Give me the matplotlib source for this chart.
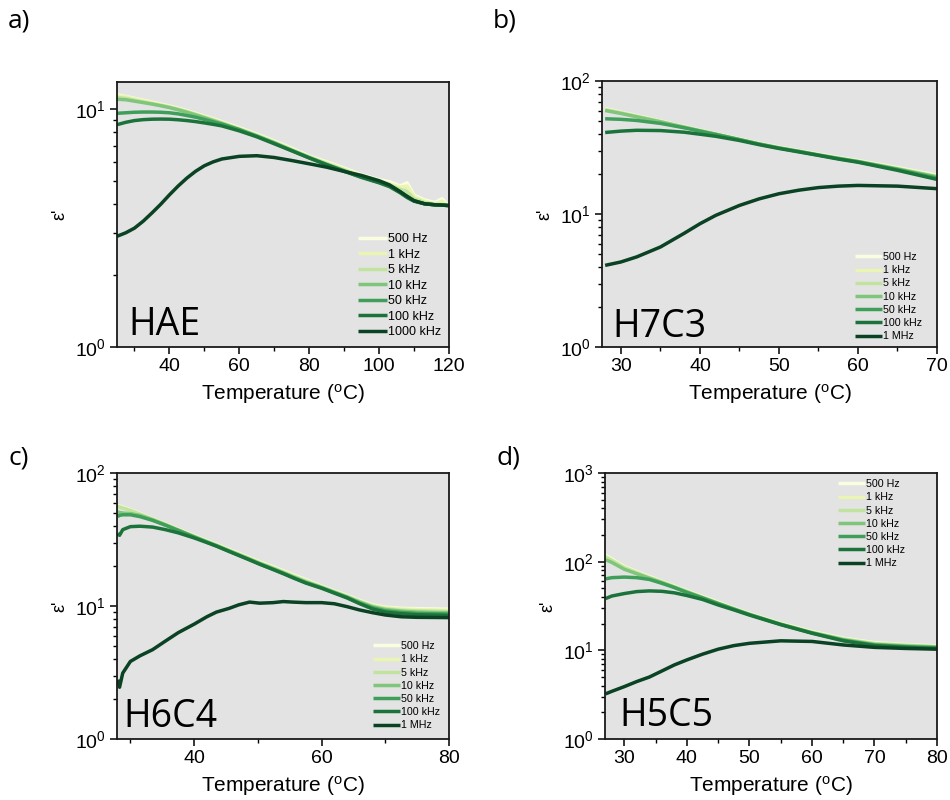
import matplotlib
matplotlib.use("Agg")
import matplotlib.pyplot as plt
from matplotlib.ticker import LogLocator, NullFormatter, MultipleLocator

plt.rcParams["font.family"] = ["Liberation Sans", "DejaVu Sans"]
plt.rcParams["mathtext.fontset"] = "custom"
plt.rcParams["mathtext.rm"] = "Liberation Sans"
plt.rcParams["mathtext.it"] = "Liberation Sans:italic"
plt.rcParams["mathtext.bf"] = "Liberation Sans:bold"

colors = ["#fafde0", "#eaf5b4", "#c2e3a0", "#80c57c", "#3f9f5a", "#1b733b", "#0a4223"]
labels_khz = ["500 Hz", "1 kHz", "5 kHz", "10 kHz", "50 kHz", "100 kHz", "1000 kHz"]
labels_mhz = ["500 Hz", "1 kHz", "5 kHz", "10 kHz", "50 kHz", "100 kHz", "1 MHz"]

# ---- a) HAE ----
temp_a = [25, 27.5, 30, 32.5, 35, 37.5, 40, 42.5, 45, 47.5, 50, 52.5, 55, 60, 65, 70, 75, 80, 85, 90, 95,
          100, 103, 106, 108, 110, 113, 116, 118, 120]
hae_500hz = [11.5, 11.3, 11.1, 10.9, 10.7, 10.5, 10.3, 10.08, 9.85, 9.6, 9.35, 9.1, 8.85, 8.35, 7.85, 7.35,
             6.85, 6.35, 6.0, 5.65, 5.3, 5.05, 4.95, 4.75, 4.9, 4.35, 4.15, 4.05, 4.2, 3.9]
hae_1khz = [11.4, 11.25, 11.05, 10.85, 10.65, 10.45, 10.25, 10.03, 9.8, 9.55, 9.3, 9.05, 8.8, 8.3, 7.8, 7.3,
            6.8, 6.3, 5.95, 5.6, 5.25, 5.0, 4.85, 4.7, 4.75, 4.3, 4.1, 4.0, 4.1, 3.9]
hae_5khz = [11.2, 11.1, 10.9, 10.72, 10.55, 10.38, 10.2, 9.98, 9.75, 9.5, 9.25, 9.0, 8.75, 8.25, 7.75, 7.25,
            6.75, 6.3, 5.9, 5.55, 5.2, 4.95, 4.8, 4.6, 4.5, 4.2, 4.05, 3.98, 3.97, 3.93]
hae_10khz = [11.0, 10.95, 10.8, 10.65, 10.5, 10.33, 10.15, 9.93, 9.7, 9.45, 9.2, 8.95, 8.7, 8.2, 7.7, 7.2,
             6.7, 6.25, 5.85, 5.5, 5.18, 4.93, 4.75, 4.5, 4.3, 4.12, 4.0, 3.96, 3.95, 3.93]
hae_50khz = [9.6, 9.65, 9.7, 9.72, 9.72, 9.7, 9.65, 9.55, 9.4, 9.25, 9.05, 8.85, 8.65, 8.2, 7.7, 7.2,
             6.7, 6.25, 5.85, 5.5, 5.18, 4.93, 4.75, 4.5, 4.28, 4.12, 4.0, 3.96, 3.95, 3.93]
hae_100khz = [8.6, 8.8, 8.95, 9.03, 9.07, 9.08, 9.07, 9.02, 8.95, 8.86, 8.75, 8.63, 8.5, 8.1, 7.65, 7.15,
              6.68, 6.23, 5.83, 5.48, 5.16, 4.9, 4.72, 4.45, 4.25, 4.1, 4.0, 3.96, 3.95, 3.93]
hae_1000khz = [2.92, 3.02, 3.16, 3.38, 3.66, 3.98, 4.36, 4.75, 5.13, 5.48, 5.78, 6.0, 6.17, 6.33, 6.37, 6.26,
               6.08, 5.89, 5.7, 5.47, 5.26, 5.0, 4.8, 4.5, 4.3, 4.12, 4.0, 3.96, 3.95, 3.93]

# ---- b) H7C3 ----
temp_b = [28, 30, 32, 35, 38, 40, 42, 45, 47.5, 50, 52.5, 55, 57.5, 60, 65, 70]
h7c3_500hz = [62, 58.3, 54.8, 50, 45.5, 42.7, 40.2, 36.7, 34.0, 31.8, 30.0, 28.2, 26.6, 25.2, 22.3, 19.6]
h7c3_1khz = [61.5, 58, 54.5, 49.8, 45.3, 42.5, 40, 36.5, 33.8, 31.6, 29.8, 28.0, 26.4, 25.0, 22.1, 19.4]
h7c3_5khz = [61, 57.6, 54.2, 49.6, 45.1, 42.4, 39.9, 36.4, 33.7, 31.5, 29.7, 27.9, 26.3, 24.9, 21.9, 19.1]
h7c3_10khz = [60, 57, 53.8, 49.3, 44.9, 42.2, 39.8, 36.3, 33.6, 31.4, 29.6, 27.8, 26.2, 24.8, 21.8, 19.0]
h7c3_50khz = [52, 51.5, 50.5, 48, 44.5, 42, 39.6, 36.2, 33.5, 31.3, 29.5, 27.7, 26.1, 24.7, 21.6, 18.6]
h7c3_100khz = [41, 42, 42.6, 42.4, 41.2, 39.8, 38.4, 35.7, 33.2, 31.1, 29.3, 27.6, 25.9, 24.5, 21.3, 18.2]
h7c3_1mhz = [4.11, 4.36, 4.76, 5.65, 7.16, 8.45, 9.77, 11.6, 13.0, 14.2, 15.1, 15.8, 16.2, 16.4, 16.2, 15.5]

# ---- c) H6C4 ----
temp_c = [28, 28.3, 28.8, 30, 31.5, 33.5, 35.5, 37.5, 40, 42, 43.5, 45.5, 47, 48.7, 50.3,
          52.4, 54, 55.5, 57.5, 60, 62, 64, 66, 68, 70, 72.5, 75, 77.5, 80]
h6c4_500hz = [57, 56.4, 55.4, 53, 49.5, 45.3, 41.4, 37.8, 33.8, 31.0, 29.1, 26.6, 24.9, 23.1, 21.5,
              19.7, 18.4, 17.2, 15.8, 14.1, 13.0, 12.0, 11.0, 10.2, 9.8, 9.6, 9.55, 9.5, 9.45]
h6c4_1khz = [56.5, 56, 55, 52.7, 49.3, 45.1, 41.2, 37.6, 33.6, 30.8, 28.9, 26.4, 24.7, 22.9, 21.3,
             19.5, 18.2, 17.0, 15.6, 14.0, 12.9, 11.9, 10.9, 10.1, 9.7, 9.5, 9.4, 9.35, 9.3]
h6c4_5khz = [56, 55.5, 54.5, 52.3, 49, 44.9, 41.0, 37.4, 33.4, 30.6, 28.7, 26.2, 24.5, 22.7, 21.1,
             19.3, 18.0, 16.8, 15.4, 13.9, 12.8, 11.8, 10.8, 10.0, 9.55, 9.3, 9.2, 9.15, 9.1]
h6c4_10khz = [51, 50.5, 50, 49.5, 48, 44.5, 40.8, 37.2, 33.2, 30.4, 28.5, 26.0, 24.3, 22.5, 20.9,
              19.1, 17.8, 16.6, 15.2, 13.8, 12.7, 11.7, 10.7, 9.85, 9.4, 9.15, 9.0, 8.95, 8.9]
h6c4_50khz = [47, 48, 48.5, 48.5, 47, 44, 40.5, 37, 33.0, 30.2, 28.3, 25.8, 24.1, 22.3, 20.7,
              18.9, 17.6, 16.4, 15.0, 13.7, 12.6, 11.6, 10.5, 9.7, 9.2, 8.95, 8.8, 8.75, 8.7]
h6c4_100khz = [35, 34, 37.5, 39.5, 39.8, 39.2, 37.5, 35.5, 32.5, 30, 28.2, 25.7, 24.0, 22.2, 20.6,
               18.8, 17.5, 16.3, 14.9, 13.6, 12.5, 11.5, 10.4, 9.5, 9.0, 8.75, 8.6, 8.55, 8.5]
h6c4_1mhz = [2.79, 2.45, 3.13, 3.83, 4.22, 4.7, 5.45, 6.3, 7.3, 8.3, 9.0, 9.6, 10.2, 10.7, 10.5,
             10.6, 10.8, 10.7, 10.6, 10.6, 10.4, 9.89, 9.33, 8.91, 8.56, 8.3, 8.22, 8.2, 8.18]

# ---- d) H5C5 ----
temp_d = [27, 28, 30, 32, 34, 36, 38, 40, 42.5, 45, 47.5, 50, 55, 60, 65, 70, 75, 80]
h5c5_500hz = [118, 107, 88, 77, 68, 60, 53, 47, 40.5, 35, 30, 26, 20.2, 16.3, 13.7, 12.2, 11.6, 11.2]
h5c5_1khz = [116, 105, 87, 76, 67, 59.5, 52.5, 46.5, 40, 34.5, 29.7, 25.8, 20, 16.1, 13.5, 12.0, 11.5, 11.1]
h5c5_5khz = [113, 103, 85, 75, 66, 59, 52, 46, 39.5, 34, 29.5, 25.5, 19.8, 15.9, 13.4, 11.9, 11.4, 11.0]
h5c5_10khz = [105, 98, 82, 73, 65, 58, 51.5, 45.5, 39.2, 33.8, 29.3, 25.4, 19.7, 15.8, 13.2, 11.7, 11.2, 10.9]
h5c5_50khz = [64, 66, 67, 66, 63, 57, 51, 45, 39, 33.6, 29.1, 25.3, 19.6, 15.7, 13.0, 11.5, 11.0, 10.7]
h5c5_100khz = [38.4, 41, 43.7, 46, 46.8, 46.3, 44.5, 41.5, 37.5, 32.5, 28.6, 25, 19.5, 15.6, 12.8, 11.3, 10.8, 10.5]
h5c5_1mhz = [3.23, 3.45, 3.9, 4.45, 5.0, 5.85, 6.85, 7.8, 9.05, 10.3, 11.3, 12.0, 12.8, 12.6, 11.5, 10.8, 10.5, 10.3]

panels = [
    dict(letter="a)", name="HAE", temp=temp_a,
         series=[hae_500hz, hae_1khz, hae_5khz, hae_10khz, hae_50khz, hae_100khz, hae_1000khz],
         labels=labels_khz, xlim=(25, 120), ylim=(1, 13), xmajor=20, xminor=10,
         rect=[117, 82, 449, 347], name_pos=(0.033, 0.045), leg=(0.726, 0.43),
         legfs=9.0, legsp=0.28, hlen=2.3),
    dict(letter="b)", name="H7C3", temp=temp_b,
         series=[h7c3_500hz, h7c3_1khz, h7c3_5khz, h7c3_10khz, h7c3_50khz, h7c3_100khz, h7c3_1mhz],
         labels=labels_mhz, xlim=(27.6, 70), ylim=(1, 100), xmajor=10, xminor=5,
         rect=[602, 81, 937, 347], name_pos=(0.03, 0.038), leg=(0.755, 0.357),
         legfs=7.7, legsp=0.3, hlen=2.55),
    dict(letter="c)", name="H6C4", temp=temp_c,
         series=[h6c4_500hz, h6c4_1khz, h6c4_5khz, h6c4_10khz, h6c4_50khz, h6c4_100khz, h6c4_1mhz],
         labels=labels_mhz, xlim=(27.9, 80), ylim=(1, 100), xmajor=20, xminor=10,
         rect=[117, 473, 449, 739], name_pos=(0.018, 0.045), leg=(0.771, 0.368),
         legfs=7.7, legsp=0.3, hlen=2.55),
    dict(letter="d)", name="H5C5", temp=temp_d,
         series=[h5c5_500hz, h5c5_1khz, h5c5_5khz, h5c5_10khz, h5c5_50khz, h5c5_100khz, h5c5_1mhz],
         labels=labels_mhz, xlim=(26.9, 80), ylim=(1, 1000), xmajor=10, xminor=5,
         rect=[605, 473, 937, 739], name_pos=(0.042, 0.049), leg=(0.702, 0.977),
         legfs=7.7, legsp=0.3, hlen=2.55),
]

W, H = 950, 800
fig = plt.figure(figsize=(W / 100, H / 100), dpi=100)

for p in panels:
    x0, y0, x1, y1 = p["rect"]
    ax = fig.add_axes([x0 / W, 1 - y1 / H, (x1 - x0) / W, (y1 - y0) / H])
    ax.set_facecolor("#e3e3e3")
    for vals, col, lab in zip(p["series"], colors, p["labels"]):
        ax.plot(p["temp"], vals, color=col, lw=2.5, label=lab, solid_capstyle="butt",
                solid_joinstyle="round")
    ax.set_yscale("log")
    ax.set_xlim(*p["xlim"])
    ax.set_ylim(*p["ylim"])
    ax.xaxis.set_major_locator(MultipleLocator(p["xmajor"]))
    ax.xaxis.set_minor_locator(MultipleLocator(p["xminor"]))
    ax.yaxis.set_major_locator(LogLocator(base=10, numticks=10))
    ax.yaxis.set_minor_locator(LogLocator(base=10, subs=range(2, 10), numticks=10))
    ax.yaxis.set_minor_formatter(NullFormatter())
    ax.tick_params(axis="both", which="major", direction="out", length=5, width=1.1,
                   labelsize=14, pad=3, top=False, right=False)
    ax.tick_params(axis="both", which="minor", direction="out", length=3, width=1.0,
                   top=False, right=False)
    for sp in ax.spines.values():
        sp.set_linewidth(1.3)
        sp.set_color("#1a1a1a")
    ax.set_xlabel("Temperature ($\\mathregular{^o}$C)", fontsize=15, labelpad=5)
    ax.set_ylabel("ε'", fontsize=13, labelpad=5)
    ax.text(p["name_pos"][0], p["name_pos"][1], p["name"], transform=ax.transAxes,
            fontsize=27, family="Open Sans", ha="left", va="baseline", color="black")
    ax.legend(loc="upper left", bbox_to_anchor=p["leg"], frameon=False, fontsize=p["legfs"],
              handlelength=p["hlen"], handletextpad=0.1, labelspacing=p["legsp"], borderpad=0,
              borderaxespad=0)
    fig.text((x0 - 109) / W, 1 - (21 if y0 < 200 else 458) / H, p["letter"], fontsize=19,
             family="Open Sans", ha="left", va="center")

fig.savefig("out.png", dpi=100)
